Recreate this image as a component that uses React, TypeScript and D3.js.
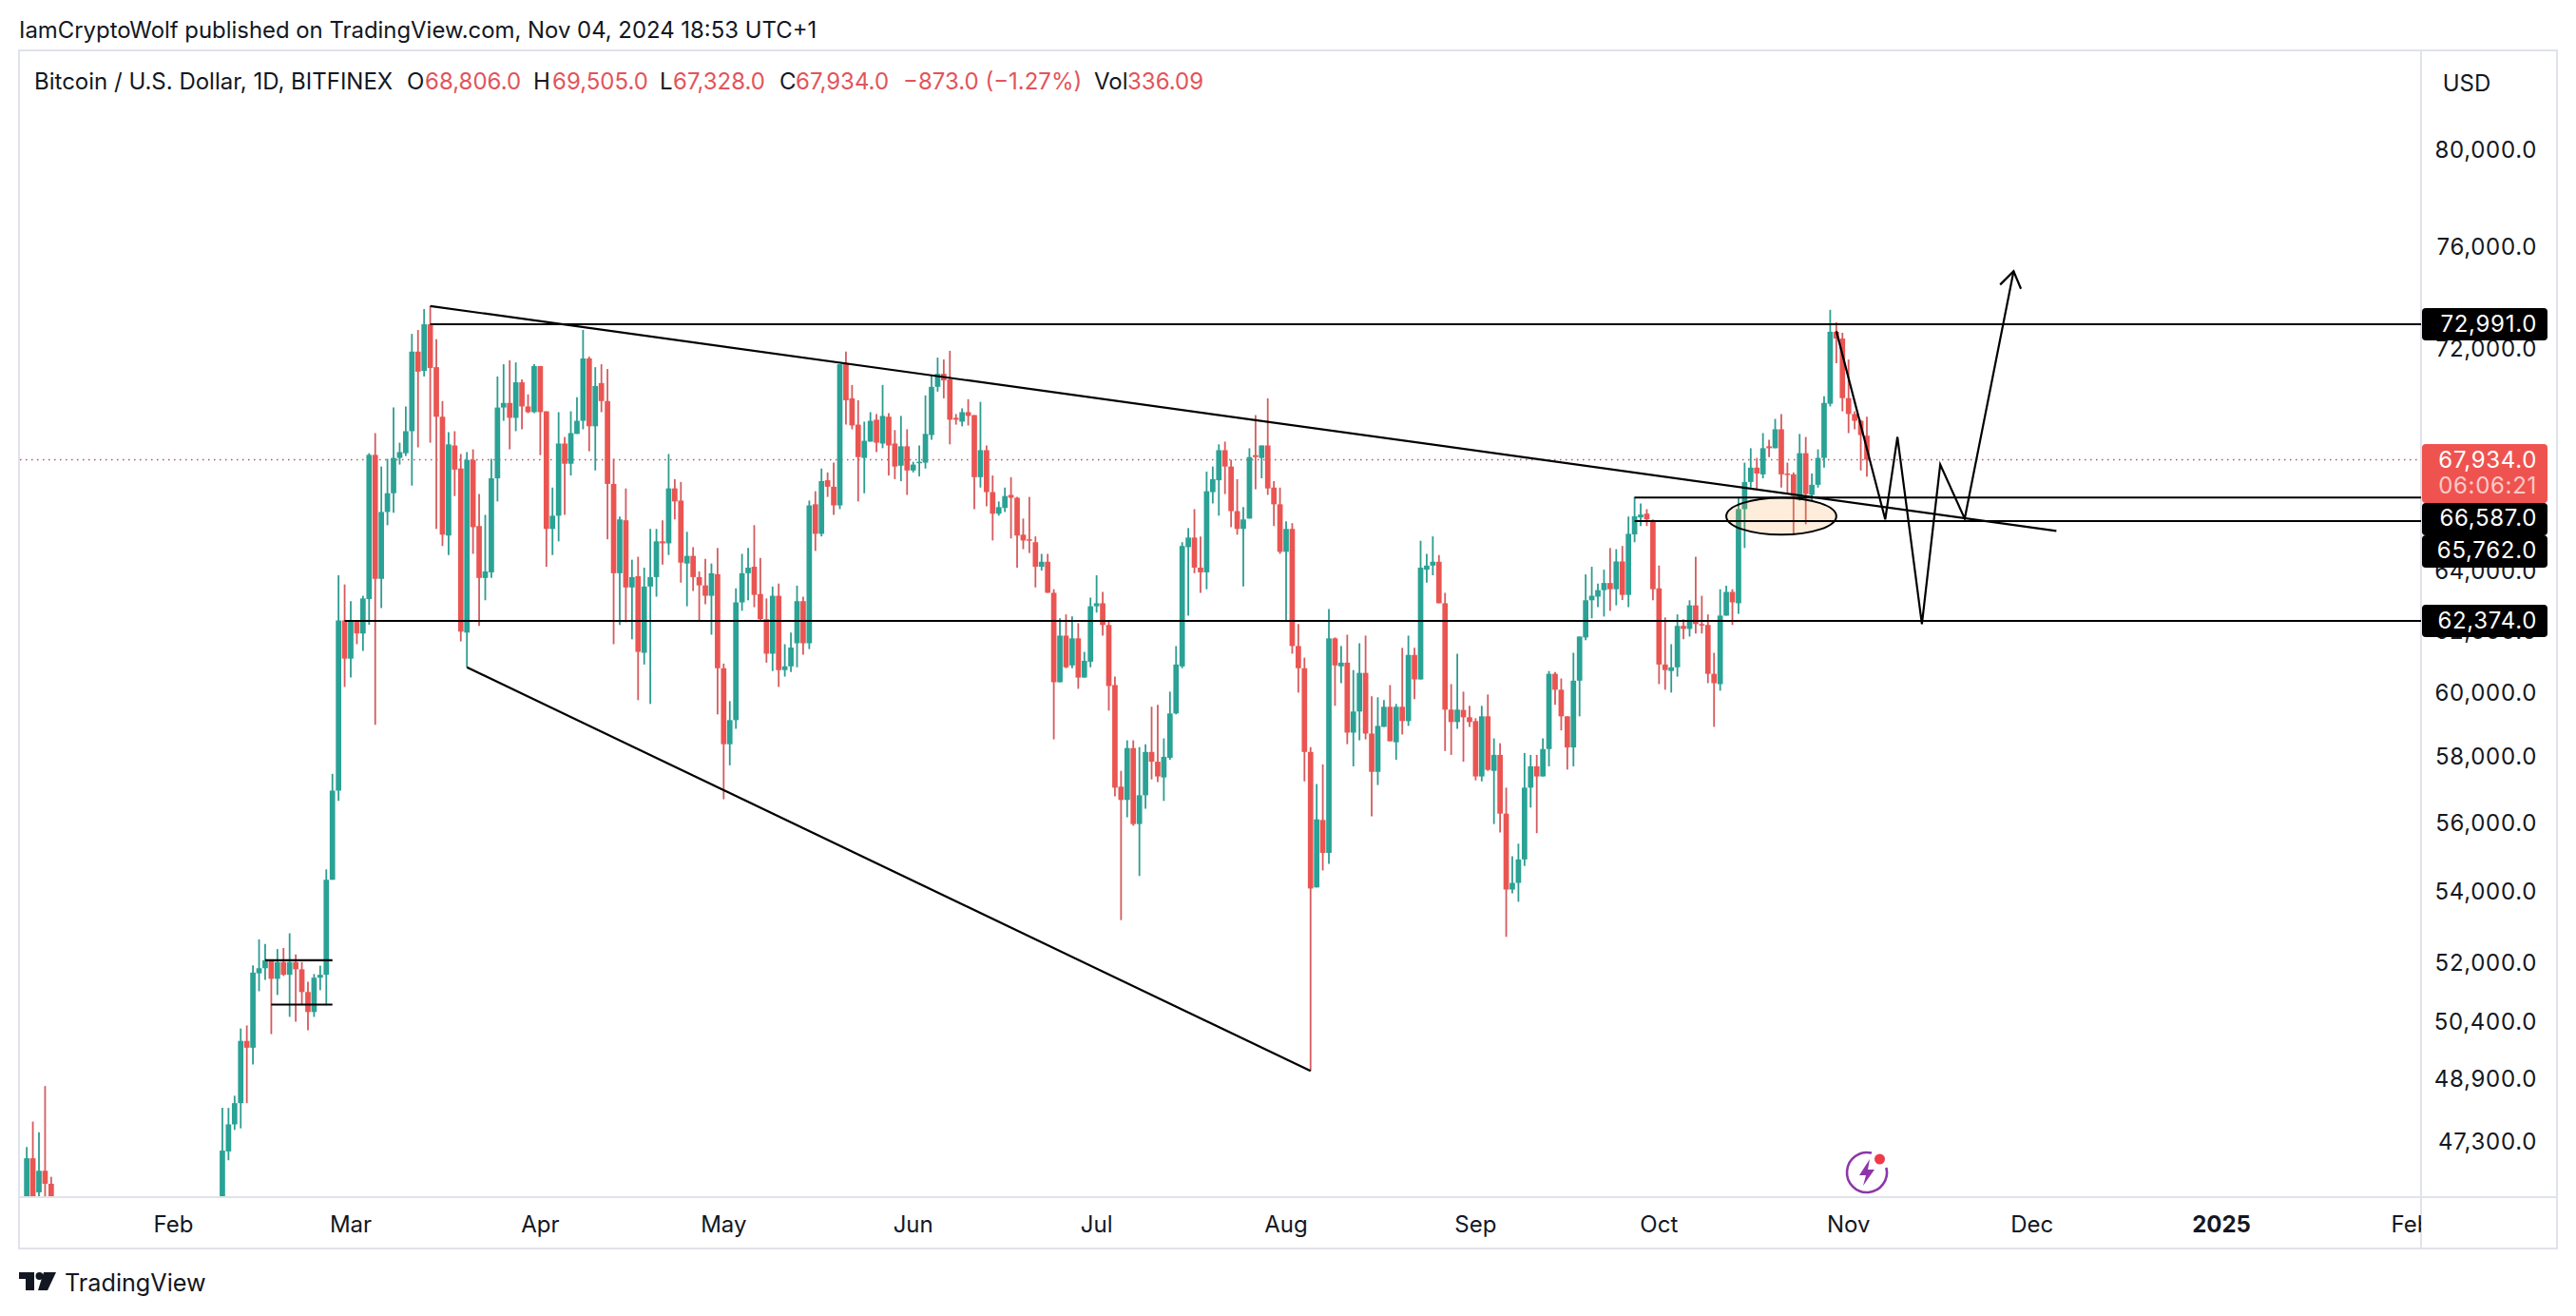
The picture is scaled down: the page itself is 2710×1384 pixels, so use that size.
import React from "react";
import * as d3 from "d3";

// ---- daily bars: [open, high, low, close] ----
const janBars = [
  [43900, 47200, 43200, 46920], [46920, 47840, 44800, 45500], [46080, 47570, 44300, 46610], [46610, 48750, 44800, 46290], [46290, 46460, 41700, 42800],
];
const febBars = [
  [45300, 48190, 45200, 47110], [47090, 48190, 46870, 47770], [47770, 48500, 47630, 48310], [48310, 50260, 47670, 49930], [49930, 50340, 48310, 49750],
  [49750, 51970, 49310, 51770], [51750, 52690, 51260, 51890], [51890, 52560, 51570, 52110], [52090, 52110, 50110, 51600], [51600, 52420, 51160, 52060],
  [52060, 52450, 51680, 51710], [51710, 52860, 50570, 52060], [52060, 52270, 50440, 51860], [51860, 52060, 50900, 51240], [51240, 51520, 50210, 50700],
  [50700, 51730, 50570, 51630], [51630, 51960, 51290, 51710], [51710, 54680, 50880, 54380], [54380, 57520, 54380, 57010], [57010, 63900, 56700, 62390],
  [62390, 63590, 60230, 61140],
];
const marBars = [
  [61140, 63030, 60530, 62400], [62340, 62340, 61610, 61960], [61960, 63210, 61390, 63120], [63100, 68170, 62250, 68110], [68110, 68900, 59030, 63780],
  [63780, 67690, 62800, 66080], [66080, 67970, 65620, 66740], [66740, 69840, 66050, 68000], [68000, 68550, 67760, 68210], [68170, 69880, 68070, 68970],
  [68970, 72620, 67010, 71940], [71940, 72770, 68380, 71180], [71210, 73580, 71000, 72990], [72990, 73700, 68550, 71320], [71350, 72410, 65490, 69500],
  [69500, 70080, 64900, 65290], [65260, 68930, 64590, 68490], [68450, 68970, 66640, 67580], [67620, 68140, 61700, 62020], [61990, 68210, 60860, 67930],
  [67930, 68310, 64630, 65550], [65590, 66710, 62210, 63810], [63810, 65980, 63060, 64030], [64000, 67970, 63810, 67270], [67270, 71000, 66450, 69840],
  [69840, 71460, 69350, 70010], [70010, 71610, 68310, 69460], [69460, 71530, 68970, 70780], [70780, 70890, 69040, 69880], [69880, 70330, 69630, 69670],
  [69670, 71460, 69630, 71390],
];
const aprBars = [
  [71390, 71390, 68100, 69670], [69700, 69700, 64190, 65490], [65490, 66940, 64590, 65950], [65950, 69670, 65060, 68520], [68520, 68760, 65980, 67790],
  [67790, 69700, 67370, 68900], [68870, 70220, 68870, 69350], [69350, 72770, 69040, 71680], [71680, 71750, 68240, 69150], [69150, 71350, 67550, 70640],
  [70750, 71460, 69670, 70080], [70080, 71280, 65130, 67070], [67070, 67970, 61610, 63970], [63970, 65920, 62240, 65820], [65790, 66910, 62330, 63490],
  [63490, 64430, 61770, 63840], [63870, 64530, 59810, 61360], [61330, 64160, 60950, 63520], [63520, 65490, 59690, 63840], [63840, 65490, 63180, 65060],
  [65060, 65790, 64260, 64990], [64990, 68140, 64590, 66910], [66910, 67240, 65820, 66450], [66480, 67140, 63650, 64330], [64300, 65390, 62860, 64560],
  [64560, 64860, 63370, 63840], [63840, 64030, 62400, 63560], [63560, 64460, 62930, 63210], [63210, 64300, 61920, 63970], [63940, 64830, 59360, 60830],
];
const mayBars = [
  [60830, 60980, 56750, 58430], [58430, 59780, 57780, 59180], [59180, 63460, 58910, 62990], [62990, 64630, 62710, 63970], [63970, 64830, 63060, 64160],
  [64190, 65620, 62830, 63240], [63270, 64490, 62400, 62430], [62430, 63120, 61010, 61300], [61300, 63520, 60740, 63210], [63210, 63620, 60230, 60770],
  [60770, 61610, 60560, 60890], [60890, 61990, 60710, 61500], [61640, 63550, 60860, 63030], [63030, 63180, 61270, 61640], [61640, 66480, 61450, 66310],
  [66350, 66810, 64730, 65320], [65320, 67620, 65230, 67170], [67200, 67480, 66610, 66970], [66970, 67830, 65980, 66310], [66310, 71460, 66180, 71460],
  [71460, 71940, 69210, 70110], [70180, 70680, 69040, 69180], [69210, 70110, 66450, 68030], [68000, 69320, 66740, 68620], [68590, 69670, 68590, 69350],
  [69390, 69600, 68210, 68550], [68520, 70680, 68350, 69530], [69500, 69630, 67370, 68450], [68520, 69010, 67240, 67690], [67720, 69530, 67170, 68420],
  [68420, 69040, 66680, 67550],
];
const junBars = [
  [67550, 67860, 67480, 67760], [67830, 68450, 67340, 67860], [67830, 70290, 67620, 68870], [68830, 71030, 68660, 70610], [70610, 71710, 70430, 71100],
  [71100, 71640, 70180, 70850], [70890, 71970, 68490, 69390], [69460, 69600, 69210, 69390], [69320, 69810, 69150, 69670], [69670, 70150, 69180, 69530],
  [69560, 69560, 66180, 67310], [67310, 70050, 66940, 68280], [68280, 68450, 66280, 66780], [66780, 67370, 65090, 66020], [66020, 66450, 65950, 66250],
  [66220, 66940, 66080, 66640], [66680, 67310, 65160, 66580], [66580, 66610, 64160, 65260], [65290, 65850, 64790, 65090], [65130, 66610, 64660, 65090],
  [65030, 65230, 63490, 64190], [64190, 64630, 64060, 64360], [64360, 64630, 63310, 63310], [63310, 63430, 58580, 60380], [60380, 62460, 60380, 61890],
  [61890, 62590, 60830, 60860], [60920, 62520, 60830, 61800], [61800, 62300, 60170, 60530], [60530, 61360, 60530, 61070], [61040, 63150, 60860, 62860],
];
const julBars = [
  [62860, 63900, 62650, 62960], [62960, 63340, 61890, 62240], [62240, 62400, 59480, 60260], [60290, 60560, 56840, 57100], [57130, 57610, 53230, 56730],
  [56730, 58550, 56210, 58310], [58310, 58550, 55960, 56010], [56010, 58340, 54490, 56870], [56870, 58430, 56470, 58190], [58190, 59600, 57350, 57890],
  [57890, 59660, 57270, 57440], [57410, 58610, 56700, 58040], [58010, 60080, 57950, 59390], [59390, 61550, 59360, 60950], [60890, 65030, 60830, 64900],
  [64860, 65520, 62550, 65190], [65190, 66180, 63970, 64160], [64160, 65230, 63310, 64000], [64000, 67510, 63430, 66810], [66780, 67690, 66380, 67240],
  [67200, 68490, 65950, 68280], [68280, 68590, 66710, 67690], [67690, 67930, 65550, 66110], [66110, 67240, 65290, 65490], [65490, 66250, 63520, 65820],
  [65850, 68350, 65850, 68030], [68100, 69560, 66880, 68030], [68000, 68450, 67270, 68450], [68450, 70180, 66680, 66910], [66940, 67170, 65590, 66350],
  [66350, 66940, 64630, 64700],
];
const augBars = [
  [64700, 65750, 62400, 65490], [65490, 65690, 61300, 61550], [61550, 62270, 60050, 60830], [60830, 61170, 57290, 58190], [58190, 58340, 49140, 54130],
  [54160, 57210, 54160, 56150], [56130, 57810, 54650, 55160], [55160, 62770, 54840, 61800], [61800, 61830, 59630, 60920], [60890, 61550, 60350, 61010],
  [61010, 61920, 58430, 58790], [58790, 60770, 57750, 59450], [59450, 61640, 58550, 60680], [60680, 61890, 58580, 58760], [58760, 59930, 56240, 57580],
  [57580, 59900, 57180, 59000], [58970, 59810, 58970, 59600], [59600, 60290, 58520, 58520], [58490, 59690, 57950, 59600], [59600, 61490, 58730, 59150],
  [59150, 61890, 59000, 61260], [61260, 61490, 59840, 60470], [60470, 65080, 60470, 64160], [64090, 64630, 63650, 64230], [64230, 65230, 63900, 64360],
  [64360, 64590, 62960, 62960], [62960, 63310, 58220, 59510], [59510, 60320, 58100, 59120], [59120, 61300, 58910, 59510], [59500, 60080, 57890, 59270],
  [59270, 59630, 58970, 59120],
];
const sepBars = [
  [59150, 59240, 57320, 57440], [57440, 59630, 57290, 59300], [59300, 59990, 57610, 57640], [57610, 58610, 56010, 58100], [58100, 58460, 55760, 56320],
  [56320, 57100, 52760, 54100], [54100, 55060, 53990, 54290], [54290, 55430, 53750, 54970], [54970, 58160, 54780, 57100], [57100, 58100, 56500, 57750],
  [57750, 58100, 55740, 57440], [57440, 58610, 57440, 58280], [58280, 60740, 57750, 60650], [60650, 60710, 59660, 60140], [60140, 60500, 58860, 59300],
  [59300, 59300, 57650, 58330], [58330, 61330, 57750, 60430], [60430, 61860, 59300, 61860], [61830, 63930, 61740, 63060], [63060, 64190, 62460, 63210],
  [63180, 63620, 62830, 63400], [63400, 64090, 62520, 63640], [63640, 64830, 62710, 63430], [63430, 64790, 62890, 64370], [64370, 64900, 63070, 63240],
  [63240, 65920, 62830, 65320], [65300, 66610, 65030, 65930], [65890, 66380, 65590, 65990], [66020, 66180, 65590, 65820], [65790, 65820, 63060, 63430],
];
const octBars = [
  [63460, 64230, 60320, 60950], [60950, 62490, 60140, 60770], [60740, 61610, 60050, 60860], [60860, 62590, 60560, 62210], [62210, 62430, 61770, 62110],
  [62110, 63060, 61860, 62890], [62890, 64530, 61960, 62270], [62270, 63210, 61960, 62240], [62240, 62590, 60350, 60650], [60650, 61330, 58970, 60350],
  [60320, 63430, 60110, 62550], [62550, 63550, 62550, 63340], [63340, 63430, 62240, 62990], [62960, 66610, 62610, 66180], [66180, 67830, 64830, 67140],
  [67140, 68350, 66940, 67650], [67650, 68000, 66880, 67440], [67410, 68900, 67270, 68350], [68420, 68660, 68030, 68350], [68350, 69420, 68350, 69040],
  [69040, 69600, 66940, 67410], [67440, 67830, 66710, 67410], [67410, 67480, 65320, 66640], [66640, 68870, 66480, 68170], [68170, 68760, 65650, 66710],
  [66680, 67440, 66480, 67040], [67040, 68310, 66940, 68000], [68000, 70260, 67650, 70010], [69980, 73550, 69880, 72700], [72700, 73070, 71500, 72440],
  [72440, 72660, 69700, 70190],
];
const novBars = [
  [70190, 71640, 68900, 69600], [69600, 69700, 69040, 69350], [69350, 69390, 67550, 68830], [68806, 69505, 67328, 67934],
];
const barRuns: [string, number[][]][] = [
  ["2024-01-08", janBars], ["2024-02-09", febBars], ["2024-03-01", marBars], ["2024-04-01", aprBars],
  ["2024-05-01", mayBars], ["2024-06-01", junBars], ["2024-07-01", julBars], ["2024-08-01", augBars],
  ["2024-09-01", sepBars], ["2024-10-01", octBars], ["2024-11-01", novBars],
];

// ---- axes ----
const priceTicks = [80000, 76000, 72000, 68000, 64000, 62000, 60000, 58000, 56000, 54000, 52000, 50400, 48900, 47300];
const timeTicks: [string, string, boolean][] = [
  ["2024-02-01", "Feb", false], ["2024-03-01", "Mar", false], ["2024-04-01", "Apr", false], ["2024-05-01", "May", false],
  ["2024-06-01", "Jun", false], ["2024-07-01", "Jul", false], ["2024-08-01", "Aug", false], ["2024-09-01", "Sep", false],
  ["2024-10-01", "Oct", false], ["2024-11-01", "Nov", false], ["2024-12-01", "Dec", false], ["2025-01-01", "2025", true], ["2025-02-01", "Feb", false],
];

// ---- drawings, in date / price ----
const levelLines: [string, number][] = [["2024-03-14", 72991], ["2024-09-27", 66587], ["2024-09-27", 65762], ["2024-02-29", 62374]];
const shortLines: [string, string, number][] = [["2024-02-16", "2024-02-27", 52110], ["2024-02-17", "2024-02-27", 50900]];
const upperTrend: [string, number][] = [["2024-03-14", 73700], ["2024-12-05", 65420]];
const lowerTrend: [string, number][] = [["2024-03-20", 60860], ["2024-08-05", 49140]];
const projection: [string, number][] = [
  ["2024-10-30", 72730], ["2024-11-07", 65820], ["2024-11-09", 68760], ["2024-11-13", 62270],
  ["2024-11-16", 67760], ["2024-11-20", 65850], ["2024-11-28", 75070],
];
const zoneDates = ["2024-10-12", "2024-10-30"];
const zonePrices = [66580, 65290];

const labelBoxes: [number, string][] = [[72991, "72,991.0"], [62374, "62,374.0"]];
const lastPrice = 67934;
const legendBits: [number, string, boolean][] = [
  [36, "Bitcoin / U.S. Dollar, 1D, BITFINEX", false],
  [428, "O", false], [447, "68,806.0", true],
  [561, "H", false], [581, "69,505.0", true],
  [694, "L", false], [708, "67,328.0", true],
  [820, "C", false], [837, "67,934.0", true],
  [950, "−873.0 (−1.27%)", true],
  [1151, "Vol", false], [1186, "336.09", true],
];

const UP = "#2aa295";
const DOWN = "#ea5552";
const INK = "#131722";
const BORDER = "#e0e3eb";
const FONT = "Inter, 'Noto Sans', sans-serif";

const PANE = { left: 21, right: 2547, top: 54, bottom: 1258 };

const day = (s: string) => new Date(s + "T00:00:00Z");
const x = d3.scaleUtc().domain([day("2024-03-01"), day("2024-11-04")]).range([369, 1964]);
const y = d3.scaleLog().domain([72991, 62374]).range([341, 653]);
const pt = ([d, p]: [string, number]): [number, number] => [x(day(d)), y(p)];
const line = d3.line();

const candles = barRuns.flatMap(([start, bars]) =>
  bars.map((b, i) => ({ t: d3.utcDay.offset(day(start), i), o: b[0], h: b[1], l: b[2], c: b[3] }))
);

const axisText = { fontSize: 24, letterSpacing: 0.7, textAnchor: "end" as const, dy: "0.34em" };

export default function App() {
  const arrowPts = projection.map(pt);
  const tip = arrowPts[arrowPts.length - 1];
  const prev = arrowPts[arrowPts.length - 2];
  const ang = Math.atan2(tip[1] - prev[1], tip[0] - prev[0]);
  const head = [-2.55, 2.55].map((da) => [tip[0] + 20 * Math.cos(ang + da), tip[1] + 20 * Math.sin(ang + da)] as [number, number]);
  const zx = zoneDates.map((d) => x(day(d)));
  const zy = zonePrices.map((p) => y(p));

  return (
    <svg width={2710} height={1384} style={{ position: "absolute", left: 0, top: 0, display: "block", background: "#fff" }} fontFamily={FONT}>
      <defs>
        <clipPath id="pane"><rect x={PANE.left} y={PANE.top} width={PANE.right - PANE.left} height={PANE.bottom - PANE.top} /></clipPath>
        <clipPath id="timeAxis"><rect x={PANE.left} y={PANE.bottom} width={PANE.right - PANE.left} height={60} /></clipPath>
      </defs>

      <text x={20} y={40} fontSize={23.9} fill={INK}>IamCryptoWolf published on TradingView.com, Nov 04, 2024 18:53 UTC+1</text>

      <rect x={20} y={53} width={2670} height={1260} fill="none" stroke={BORDER} strokeWidth={2} />
      <line x1={PANE.right} x2={PANE.right} y1={53} y2={1313} stroke={BORDER} strokeWidth={2} />
      <line x1={20} x2={2690} y1={PANE.bottom + 1} y2={PANE.bottom + 1} stroke={BORDER} strokeWidth={2} />

      {legendBits.map(([lx, s, red]) => (
        <text key={lx} x={lx} y={94} fontSize={24} fill={red ? "#e2545a" : INK}>{s}</text>
      ))}

      <g clipPath="url(#pane)">
        <line x1={PANE.left} x2={PANE.right} y1={y(lastPrice)} y2={y(lastPrice)} stroke="#b0585f" strokeWidth={1.5} strokeDasharray="1.5 4.5" />
        {candles.map((c) => {
          const cx = x(c.t);
          const up = c.c >= c.o;
          const col = up ? UP : DOWN;
          const top = y(Math.max(c.o, c.c));
          const bot = y(Math.min(c.o, c.c));
          return (
            <g key={+c.t}>
              <line x1={cx} x2={cx} y1={y(c.h)} y2={y(c.l)} stroke={up ? "#2e9c90" : "#d45b5e"} strokeWidth={1.8} />
              <rect x={cx - 2.85} y={top} width={5.7} height={Math.max(bot - top, 1.5)} fill={col} />
            </g>
          );
        })}

        <ellipse cx={(zx[0] + zx[1]) / 2} cy={(zy[0] + zy[1]) / 2} rx={(zx[1] - zx[0]) / 2} ry={(zy[1] - zy[0]) / 2}
          fill="#f5a547" fillOpacity={0.2} stroke="#000" strokeWidth={2} />

        <g stroke="#000" strokeWidth={2.2} fill="none">
          {levelLines.map(([d, p]) => (
            <line key={p} x1={x(day(d))} x2={PANE.right} y1={y(p)} y2={y(p)} />
          ))}
          {shortLines.map(([a, b, p]) => (
            <line key={p} x1={x(day(a))} x2={x(day(b))} y1={y(p)} y2={y(p)} />
          ))}
          <path d={line(upperTrend.map(pt)) || ""} />
          <path d={line(lowerTrend.map(pt)) || ""} />
          <path d={line(arrowPts) || ""} />
          <path d={line([head[0], tip, head[1]]) || ""} />
        </g>

        <g transform="translate(1964 1233)">
          <path d="M 5 -20.4 A 21 21 0 1 0 20.4 -5" fill="none" stroke="#8e36a8" strokeWidth={2.6} />
          <path d="M 3 -14 L -8 3 L -1 3 L -4 14 L 8 -3 L 1 -3 Z" fill="#8e36a8" />
          <circle cx={13.5} cy={-14} r={5.5} fill="#f03a4a" />
        </g>
      </g>

      {priceTicks.map((p) => (
        <text key={p} x={2669} y={y(p) - 1} {...axisText} fill={INK}>{d3.format(",.1f")(p)}</text>
      ))}

      <text x={2595} y={96} textAnchor="middle" fontSize={24} fill={INK}>USD</text>

      {labelBoxes.map(([p, s]) => (
        <g key={p}>
          <rect x={2548} y={y(p) - 17} width={132} height={34} rx={4} fill="#000" />
          <text x={2669} y={y(p)} {...axisText} fill="#fff">{s}</text>
        </g>
      ))}
      <rect x={2548} y={467} width={132} height={62} rx={4} fill="#ef5350" />
      <text x={2669} y={y(lastPrice)} {...axisText} fill="#fff">67,934.0</text>
      <text x={2669} y={511} {...axisText} fill="#fff" fillOpacity={0.7}>06:06:21</text>
      <rect x={2548} y={529} width={132} height={34} rx={4} fill="#000" />
      <text x={2669} y={545} {...axisText} fill="#fff">66,587.0</text>
      <rect x={2548} y={563} width={132} height={34} rx={4} fill="#000" />
      <text x={2669} y={579} {...axisText} fill="#fff">65,762.0</text>

      <g clipPath="url(#timeAxis)">
        {timeTicks.map(([d, s, bold]) => (
          <text key={d} x={x(day(d))} y={1287} dy="0.36em" textAnchor="middle" fontSize={24} fontWeight={bold ? 700 : 400} fill={INK}>{s}</text>
        ))}
      </g>

      <g fill={INK}>
        <path d="M20 1338 H36 V1357 H27 V1345 H20 Z" />
        <circle cx={41.5} cy={1342} r={4} />
        <path d="M46 1338 H59 L50 1357 H40 Z" />
      </g>
      <text x={68} y={1358} fontSize={25.2} fill={INK}>TradingView</text>
    </svg>
  );
}
